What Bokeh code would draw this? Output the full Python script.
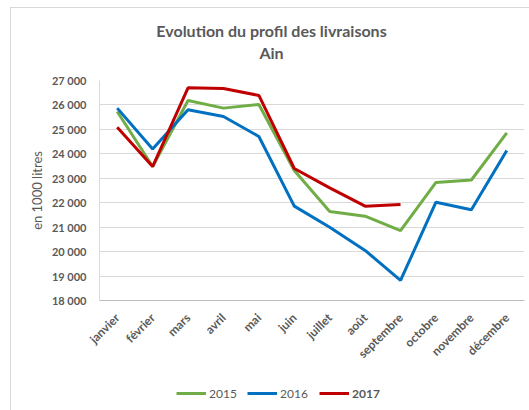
from bokeh.plotting import figure
from bokeh.layouts import column
from bokeh.models import FactorRange, FixedTicker, Legend, LegendItem, Label, Range1d
from bokeh.embed import file_html
from bokeh.resources import INLINE
import math

months = ["janvier", "février", "mars", "avril", "mai", "juin", "juillet", "août",
          "septembre", "octobre", "novembre", "décembre"]
v2015 = [25730, 23480, 26180, 25870, 26020, 23320, 21640, 21450, 20860, 22830, 22930, 24860]
v2016 = [25870, 24200, 25800, 25530, 24710, 21860, 21000, 20050, 18820, 22020, 21710, 24140]
v2017 = [25090, 23480, 26700, 26670, 26390, 23400, 22610, 21860, 21930]
y_ticks = [18000, 19000, 20000, 21000, 22000, 23000, 24000, 25000, 26000, 27000]
y_tick_labels = ["18 000", "19 000", "20 000", "21 000", "22 000", "23 000", "24 000",
                 "25 000", "26 000", "27 000"]
series_names = ["2015", "2016", "2017"]
series_colors = ["#70ad47", "#0070c0", "#c00000"]
title_lines = ["Evolution du profil des livraisons", "Ain"]

FONT = "Lato"
GRAY = "#595959"
BL, BR = 88, 5


def strip(height):
    f = figure(width=518, height=height, x_range=Range1d(0, 1), y_range=Range1d(0, 1),
               output_backend="svg", toolbar_location=None,
               min_border_left=BL, min_border_right=BR, min_border_top=0, min_border_bottom=0)
    f.axis.visible = False
    f.grid.visible = False
    f.outline_line_color = None
    return f


# title strip
tf = strip(64)
for txt, ys in zip(title_lines, [42, 20]):
    tf.add_layout(Label(x=172, y=ys, x_units="screen", y_units="screen", text=txt,
                        text_align="center", text_baseline="middle", text_font=FONT,
                        text_font_size="16px", text_font_style="bold", text_color=GRAY))

# main chart
p = figure(width=518, height=303, x_range=FactorRange(*months, range_padding=0),
           y_range=(18000, 27000), output_backend="svg", toolbar_location=None,
           min_border_left=BL, min_border_right=BR, min_border_top=8, min_border_bottom=75)

p.line(months, v2015, line_color=series_colors[0], line_width=3)
p.line(months, v2016, line_color=series_colors[1], line_width=3)
p.line(months[:len(v2017)], v2017, line_color=series_colors[2], line_width=3)

p.yaxis.ticker = FixedTicker(ticks=y_ticks)
p.yaxis.major_label_overrides = {t: s for t, s in zip(y_ticks, y_tick_labels)}
p.yaxis.axis_label = "en 1000 litres"
p.yaxis.axis_label_text_font = FONT
p.yaxis.axis_label_text_font_style = "normal"
p.yaxis.axis_label_text_font_size = "13px"
p.yaxis.axis_label_text_color = GRAY
p.yaxis.axis_label_standoff = 4

for ax in (p.xaxis, p.yaxis):
    ax.major_label_text_font = FONT
    ax.major_label_text_font_style = "bold"
    ax.major_label_text_color = GRAY
    ax.major_tick_line_color = None
    ax.minor_tick_line_color = None
    ax.axis_line_color = "#bfbfbf"
    ax.axis_line_width = 1
p.yaxis.major_label_text_font_size = "11px"
p.xaxis.major_label_text_font_size = "12px"
p.yaxis.axis_line_color = "#d9d9d9"
p.xaxis.major_label_orientation = math.pi / 4
p.xaxis.major_label_standoff = 9
p.yaxis.major_label_standoff = 7

p.xgrid.grid_line_color = None
p.ygrid.grid_line_color = "#d9d9d9"
p.outline_line_color = None

# legend strip below the chart
lf = strip(35)
dummies = [lf.line(x=[math.nan, math.nan], y=[math.nan, math.nan], line_color=c, line_width=3)
           for c in series_colors]
common = dict(orientation="horizontal", label_text_font=FONT, label_text_font_size="12px",
              label_text_color=GRAY, glyph_width=30, glyph_height=18, border_line_color=None,
              background_fill_alpha=0, margin=0, padding=0, label_standoff=3)
xpos = [77, 148, 220]
for i, (name, r) in enumerate(zip(series_names, dummies)):
    style = "bold" if name == "2017" else "normal"
    lf.add_layout(Legend(items=[LegendItem(label=name, renderers=[r])], location=(xpos[i], 8),
                         label_text_font_style=style, **common))

layout = column(tf, p, lf, spacing=0)
layout.styles = {"border-left": "1px solid #d9d9d9", "border-top": "1px solid #d9d9d9",
                 "margin-left": "10px", "margin-top": "7px"}

open("out.html", "w").write(file_html(layout, INLINE))
